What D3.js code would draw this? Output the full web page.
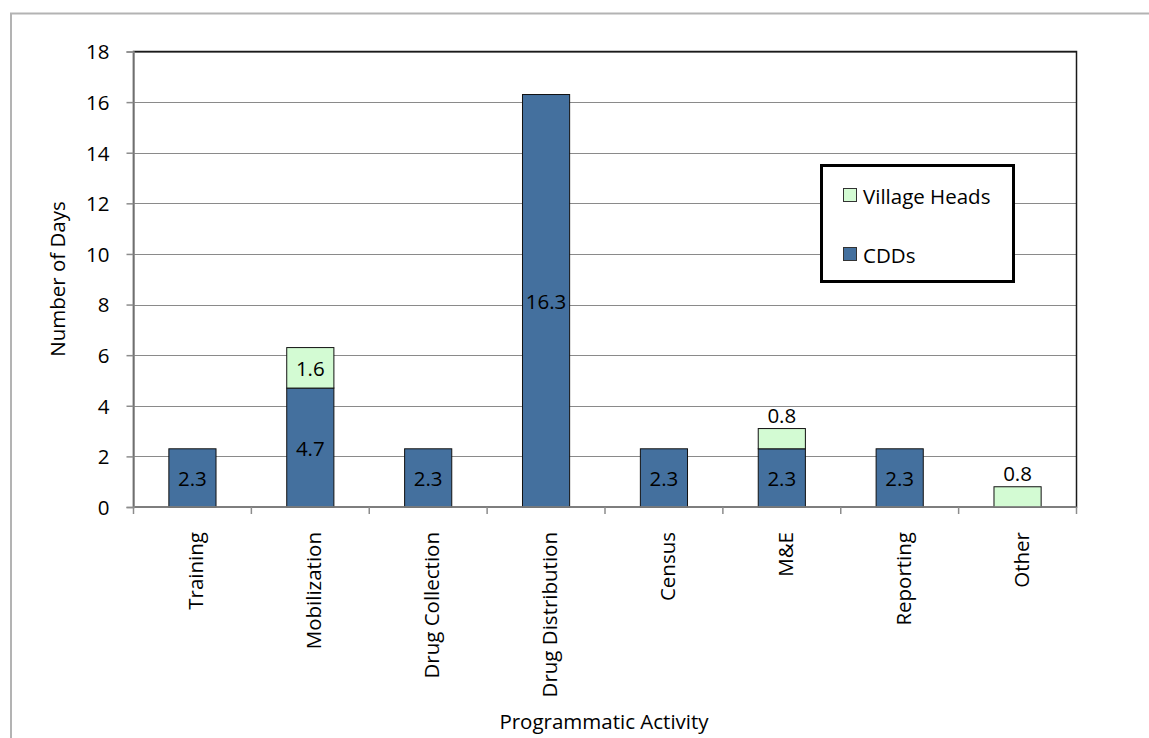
<!DOCTYPE html>
<html>
<head>
<meta charset="utf-8">
<script src="https://cdn.jsdelivr.net/npm/d3@7/dist/d3.min.js"></script>
<style>
  html, body { margin: 0; padding: 0; background: #fff; }
  svg { display: block; }
  text { font-family: "Open Sans", "Noto Sans", sans-serif; fill: #000; }
</style>
</head>
<body>
<svg id="chart" width="1149" height="738"></svg>
<script>
// Days spent per programmatic activity, split by who performed it
const categories = ["Training", "Mobilization", "Drug Collection", "Drug Distribution",
                    "Census", "M&E", "Reporting", "Other"];
const cddDays = [2.3, 4.7, 2.3, 16.3, 2.3, 2.3, 2.3, 0];
const villageHeadDays = [0, 1.6, 0, 0, 0, 0.8, 0, 0.8];
const yTicks = [0, 2, 4, 6, 8, 10, 12, 14, 16, 18];
const seriesNames = ["CDDs", "Village Heads"];
const seriesColors = ["#44709e", "#d3fbd3"];

const FS = 20.5;
const svg = d3.select("#chart");
const W = 1149, H = 738;
const plot = { left: 133.5, top: 51.5, right: 1076.5, bottom: 507 };

// Outer chart frame (extends past the right and bottom edges)
svg.append("rect")
  .attr("x", 11).attr("y", 13.5)
  .attr("width", W + 20).attr("height", H + 20)
  .attr("fill", "#fff").attr("stroke", "#b3b3b3").attr("stroke-width", 2);

const x = d3.scaleBand().domain(categories)
  .range([plot.left, plot.right]).paddingInner(0.6).paddingOuter(0.3);
const y = d3.scaleLinear().domain([0, 18]).range([plot.bottom, plot.top]);

// Gridlines
svg.append("g")
  .selectAll("line").data(yTicks.slice(1)).join("line")
  .attr("x1", plot.left).attr("x2", plot.right)
  .attr("y1", d => Math.round(y(d)) + 0.5).attr("y2", d => Math.round(y(d)) + 0.5)
  .attr("stroke", "#8a8a8a").attr("stroke-width", 1);

// Plot-area border
svg.append("rect")
  .attr("x", plot.left).attr("y", plot.top)
  .attr("width", plot.right - plot.left).attr("height", plot.bottom - plot.top)
  .attr("fill", "none").attr("stroke", "#1a1a1a").attr("stroke-width", 1.5);

// Stacked bars
const rows = categories.map((c, i) => ({ cat: c, CDDs: cddDays[i], "Village Heads": villageHeadDays[i] }));
const stacked = d3.stack().keys(seriesNames)(rows);

const barG = svg.append("g");
stacked.forEach((layer, si) => {
  barG.append("g").selectAll("rect")
    .data(layer.filter(d => d[1] - d[0] > 0)).join("rect")
    .attr("x", d => x(d.data.cat))
    .attr("width", x.bandwidth())
    .attr("y", d => y(d[1]))
    .attr("height", d => y(d[0]) - y(d[1]))
    .attr("fill", seriesColors[si])
    .attr("stroke", "#111").attr("stroke-width", 1);
});

// Value labels: centred inside a segment when it is tall enough, otherwise above it
stacked.forEach(layer => {
  layer.filter(d => d[1] - d[0] > 0).forEach(d => {
    const v = +(d[1] - d[0]).toFixed(1);
    const h = y(d[0]) - y(d[1]);
    const cx = x(d.data.cat) + x.bandwidth() / 2;
    const inside = h > 30;
    svg.append("text")
      .attr("x", cx)
      .attr("y", inside ? (y(d[0]) + y(d[1])) / 2 + 8.5 : y(d[1]) - 6)
      .attr("text-anchor", "middle")
      .attr("font-size", FS)
      .text(v.toFixed(1));
  });
});

// Y axis
const yAxis = svg.append("g")
  .attr("transform", `translate(${plot.left},0)`)
  .call(d3.axisLeft(y).tickValues(yTicks).tickSize(7).tickPadding(17).tickFormat(d3.format("d")));
yAxis.select(".domain").attr("stroke", "#8c8c8c").attr("stroke-width", 1.5);
yAxis.selectAll(".tick line").attr("stroke", "#8c8c8c").attr("stroke-width", 1.5);
yAxis.selectAll("text").attr("font-size", FS).attr("fill", "#000")
  .attr("font-family", "\"Open Sans\", sans-serif")
  .attr("dy", "0.36em");

// X axis with tick marks at category boundaries
const bounds = d3.range(categories.length + 1)
  .map(i => plot.left + i * (plot.right - plot.left) / categories.length);
const xAxisG = svg.append("g");
xAxisG.append("line")
  .attr("x1", plot.left).attr("x2", plot.right)
  .attr("y1", plot.bottom).attr("y2", plot.bottom)
  .attr("stroke", "#8c8c8c").attr("stroke-width", 1.5);
xAxisG.selectAll(".tk").data(bounds).join("line")
  .attr("x1", d => d).attr("x2", d => d)
  .attr("y1", plot.bottom).attr("y2", plot.bottom + 7)
  .attr("stroke", "#8c8c8c").attr("stroke-width", 1.5);

// Rotated category labels
svg.append("g").selectAll("text").data(categories).join("text")
  .attr("transform", d => `translate(${x(d) + x.bandwidth() / 2 + 11},532) rotate(-90)`)
  .attr("text-anchor", "end")
  .attr("font-size", FS)
  .text(d => d);

// Axis titles
svg.append("text")
  .attr("x", 604).attr("y", 729)
  .attr("text-anchor", "middle").attr("font-size", FS)
  .text("Programmatic Activity");
svg.append("text")
  .attr("transform", "translate(65,279) rotate(-90)")
  .attr("text-anchor", "middle").attr("font-size", FS)
  .text("Number of Days");

// Legend
const lg = svg.append("g");
lg.append("rect")
  .attr("x", 821.5).attr("y", 165.5).attr("width", 192).attr("height", 116)
  .attr("fill", "#fff").attr("stroke", "#000").attr("stroke-width", 3);
const legendItems = [
  { name: "Village Heads", color: seriesColors[1], base: 204 },
  { name: "CDDs", color: seriesColors[0], base: 263 }
];
legendItems.forEach(it => {
  lg.append("rect")
    .attr("x", 843.5).attr("y", it.base - 15.5).attr("width", 13).attr("height", 13)
    .attr("fill", it.color).attr("stroke", "#333").attr("stroke-width", 1);
  lg.append("text")
    .attr("x", 863).attr("y", it.base)
    .attr("font-size", FS)
    .text(it.name);
});
</script>
</body>
</html>
